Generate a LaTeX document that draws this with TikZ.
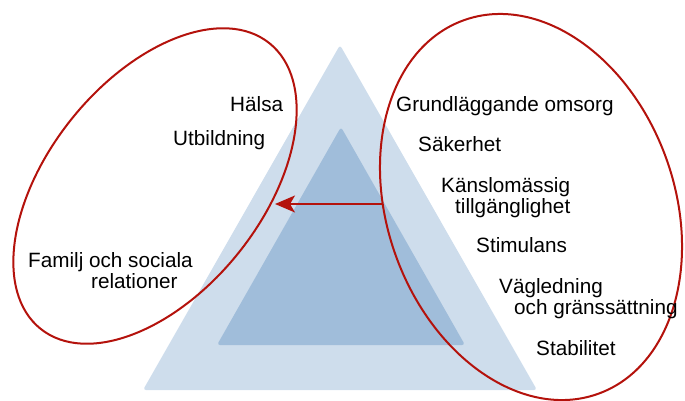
\documentclass[tikz,border=0pt]{standalone}
\usepackage{fontspec}
\setmainfont{Liberation Sans}
\usetikzlibrary{arrows.meta}
\definecolor{paleblue}{RGB}{206,221,236}
\definecolor{midblue}{RGB}{160,189,218}
\definecolor{darkred}{RGB}{180,18,12}
\begin{document}
\begin{tikzpicture}[x=1pt,y=-1pt,
  label text/.style={anchor=base west,inner sep=0pt,align=left,
    font=\fontsize{20.7}{21}\selectfont,text=black},
  ring/.style={draw=darkred,line width=2pt},
  tri/.style={rounded corners=3pt}]
\useasboundingbox (0,0) rectangle (685,400);
% nested pyramid
\fill[paleblue,tri] (143,390) -- (537,390) -- (340,45) -- cycle;
\fill[midblue,tri] (217,345) -- (465,345) -- (341,127) -- cycle;
% the two groups
\draw[ring,rotate around={51.3:(155,186)}] (155,186) ellipse [x radius=183,y radius=107];
\draw[ring,rotate around={19.8:(531,207)}] (531,207) ellipse [x radius=143.7,y radius=198.5];
% left group (multi-line labels sit on the baseline of their last line)
\node[label text] (halsa) at (230,111) {Hälsa};
\node[label text] (utb) at (173,145) {Utbildning};
\node[label text] (familj) at (28,288) {Familj och sociala\\\hspace*{63pt}relationer};
% right group
\node[label text] (omsorg) at (396,111) {Grundläggande omsorg};
\node[label text] (sak) at (418,151) {Säkerhet};
\node[label text] (kansl) at (441,213) {Känslomässig\\\hspace*{14pt}tillgänglighet};
\node[label text] (stim) at (476,252) {Stimulans};
\node[label text] (vagl) at (499,314) {Vägledning\\\hspace*{15pt}och gränssättning};
\node[label text] (stab) at (536,355) {Stabilitet};
% influence arrow
\coordinate (from) at (382,204);
\coordinate (to) at (275,204);
\draw[darkred,line width=2pt,-{Stealth[length=20pt,width=17pt,inset=5pt]}] (from) -- (to);
\end{tikzpicture}
\end{document}
